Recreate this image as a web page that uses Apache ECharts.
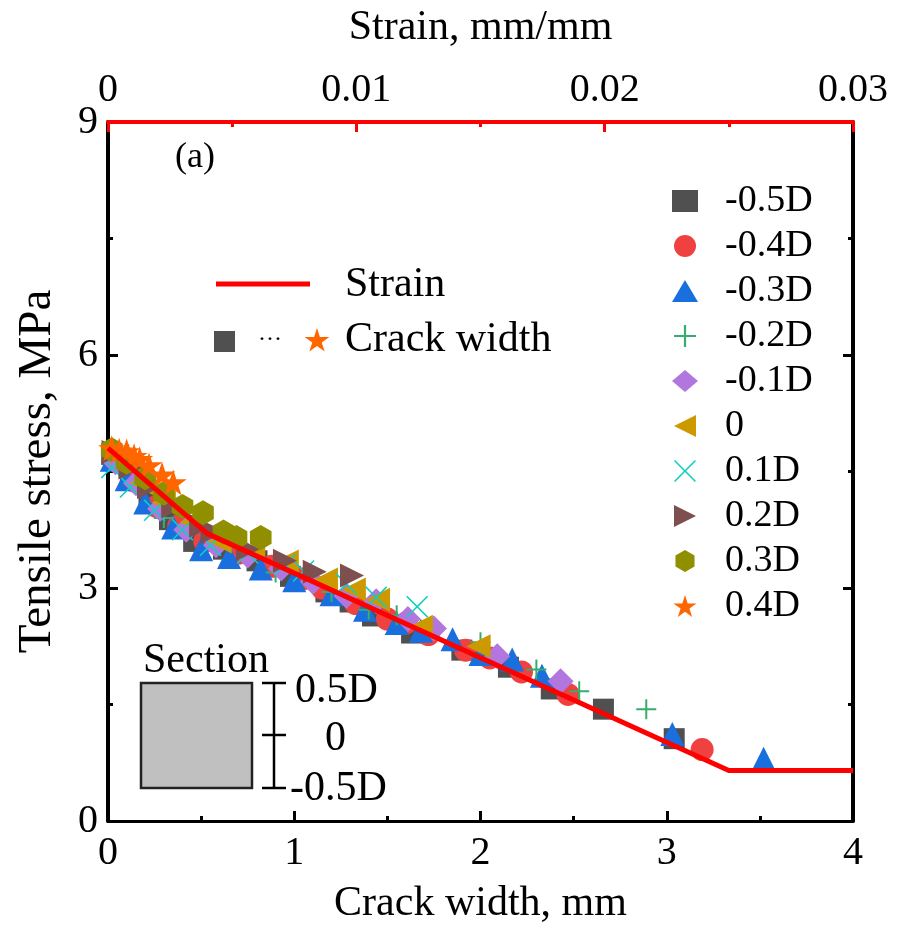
<!DOCTYPE html>
<html><head><meta charset="utf-8">
<script src="https://cdn.jsdelivr.net/npm/echarts@6/dist/echarts.min.js"></script>
<style>html,body{margin:0;padding:0;background:#fff}#c{width:897px;height:930px}</style>
</head><body><div id="c"></div>
<script>
// ---- data ----
const seriesNames = ['-0.5D','-0.4D','-0.3D','-0.2D','-0.1D','0','0.1D','0.2D','0.3D','0.4D'];
const xTicksCrack = [0,1,2,3,4];
const xTicksStrain = [0,0.01,0.02,0.03];
const yTicks = [0,3,6,9];
const strainLine = [[0,4.8],[0.004,3.7],[0.025,0.65],[0.03,0.65]];
const sM05 = [[0.02,4.72],[0.12,4.42],[0.22,4.15],[0.33,3.88],[0.46,3.6],[0.62,3.5],[0.8,3.35],[0.98,3.15],[1.17,2.95],[1.3,2.82],[1.42,2.64],[1.63,2.42],[1.9,2.2],[2.15,1.98],[2.38,1.7],[2.66,1.44],[3.04,1.06]];
const sM04 = [[0.03,4.68],[0.14,4.38],[0.26,4.05],[0.38,3.8],[0.52,3.6],[0.7,3.45],[0.88,3.28],[1.05,3.12],[1.15,3.0],[1.33,2.8],[1.5,2.6],[1.6,2.55],[1.72,2.4],[1.92,2.2],[2.05,2.1],[2.22,1.92],[2.47,1.63],[3.19,0.92]];
const sM03 = [[0.02,4.65],[0.1,4.4],[0.2,4.1],[0.35,3.78],[0.5,3.5],[0.65,3.4],[0.82,3.25],[1.0,3.1],[1.2,2.92],[1.38,2.72],[1.55,2.55],[1.68,2.45],[1.85,2.34],[2.0,2.15],[2.17,2.08],[2.33,1.87],[3.03,1.12],[3.52,0.8]];
const sM02 = [[0.05,4.6],[0.3,3.9],[0.6,3.55],[0.9,3.2],[1.2,2.95],[1.4,2.72],[1.55,2.65],[1.75,2.5],[2.0,2.3],[2.3,1.95],[2.53,1.67],[2.89,1.44]];
const sM01 = [[0.04,4.62],[0.15,4.35],[0.28,4.02],[0.42,3.75],[0.58,3.55],[0.75,3.42],[0.93,3.25],[1.1,3.08],[1.28,2.9],[1.44,2.83],[1.61,2.6],[1.75,2.48],[2.09,2.12],[2.43,1.8]];
const sZero = [[0.05,4.7],[0.18,4.35],[0.3,4.1],[0.45,3.85],[0.6,3.6],[0.78,3.5],[0.96,3.34],[1.17,3.11],[1.32,2.98],[1.45,2.85],[1.68,2.5],[1.99,2.25]];
const sP01 = [[0.02,4.55],[0.12,4.3],[0.25,4.0],[0.4,3.75],[0.55,3.55],[0.75,3.45],[0.95,3.3],[1.05,3.22],[1.28,3.05],[1.44,2.88],[1.66,2.76]];
const sP02 = [[0.03,4.75],[0.12,4.55],[0.22,4.3],[0.35,4.05],[0.5,3.8],[0.56,3.72],[0.75,3.5],[0.95,3.35],[1.11,3.21],[1.31,3.16]];
const sP03 = [[0.02,4.78],[0.1,4.62],[0.2,4.42],[0.3,4.22],[0.4,4.05],[0.51,3.97],[0.62,3.72],[0.69,3.65],[0.82,3.65]];
const sP04 = [[0.02,4.8],[0.06,4.77],[0.1,4.76],[0.14,4.7],[0.17,4.66],[0.22,4.58],[0.29,4.46],[0.35,4.36]];

// ---- styling ----
const FONT = "'Liberation Serif','Times New Roman',serif";
const P_PLUS = 'path://M4.5,0H5.5V4.5H10V5.5H5.5V10H4.5V5.5H0V4.5H4.5Z';
const P_X = 'path://M0.5,0L5,4.5L9.5,0L10,0.5L5.5,5L10,9.5L9.5,10L5,5.5L0.5,10L0,9.5L4.5,5L0,0.5Z';
const P_LEFT = 'path://M0,5L10,0L10,10Z';
const P_RIGHT = 'path://M0,0L10,5L0,10Z';
const P_HEX = 'path://M5,0L9.33,2.5L9.33,7.5L5,10L0.67,7.5L0.67,2.5Z';
const P_STAR = 'path://M5,0L6.12,3.45L9.76,3.45L6.82,5.59L7.94,9.05L5,6.91L2.06,9.05L3.18,5.59L0.24,3.45L3.88,3.45Z';
const STAR_PTS = [[5,0],[6.12,3.45],[9.76,3.45],[6.82,5.59],[7.94,9.05],[5,6.91],[2.06,9.05],[3.18,5.59],[0.24,3.45],[3.88,3.45]];
const seriesData = [sM05,sM04,sM03,sM02,sM01,sZero,sP01,sP02,sP03,sP04];
const symbols = ['rect','circle','triangle',P_PLUS,'diamond',P_LEFT,P_X,P_RIGHT,P_HEX,P_STAR];
const sizes = [21,23,24,20,26,24,22,24,25,27];
const colors = ['#505050','#f04141','#1a6fdf','#37ad6b','#b177de','#cc9900','#0fcfc0','#7e4f4f','#8f8f00','#ff6600'];

const scatterSeries = seriesNames.map((n,i)=>({
  name:n, type:'scatter', xAxisIndex:0, yAxisIndex:0,
  data:seriesData[i], symbol:symbols[i], symbolSize:sizes[i], symbolKeepAspect:true,
  itemStyle:{color:colors[i], opacity:1}, z:2+i
}));

const chart = echarts.init(document.getElementById('c'), null, {renderer:'canvas'});
const axisText = {fontFamily:FONT, fontSize:40, color:'#000'};
const nameText = {fontFamily:FONT, fontSize:42, color:'#000'};
const starLegend = STAR_PTS.map(p=>[304+p[0]*2.6, 328+p[1]*2.6]);
chart.setOption({
  animation:false,
  grid:{left:108, right:44, top:122, bottom:108},
  legend:{
    orient:'vertical', left:667, top:177, itemWidth:26, itemHeight:22, itemGap:7,
    data:seriesNames,
    textStyle:{fontFamily:FONT, fontSize:38, color:'#000', lineHeight:38, padding:[0,0,0,22]}
  },
  xAxis:[
    {type:'value', position:'bottom', min:0, max:4, interval:1,
     name:'Crack width, mm', nameLocation:'middle', nameGap:62, nameTextStyle:nameText,
     axisLine:{show:true, onZero:false, lineStyle:{color:'#000', width:3}},
     axisTick:{show:true, inside:true, length:10, lineStyle:{color:'#000', width:3}},
     minorTick:{show:true, splitNumber:2, length:5, lineStyle:{color:'#000', width:3}},
     splitLine:{show:false},
     axisLabel:Object.assign({margin:12}, axisText)},
    {type:'value', position:'top', min:0, max:0.03, interval:0.01,
     name:'Strain, mm/mm', nameLocation:'middle', nameGap:73, nameTextStyle:nameText,
     axisLine:{show:true, onZero:false, lineStyle:{color:'#ff0000', width:4}},
     axisTick:{show:true, inside:true, length:10, lineStyle:{color:'#ff0000', width:3}},
     minorTick:{show:true, splitNumber:2, length:5, lineStyle:{color:'#ff0000', width:3}},
     splitLine:{show:false},
     axisLabel:Object.assign({margin:12, formatter:v=>String(+v.toFixed(3))}, axisText), z:5}
  ],
  yAxis:[
    {type:'value', position:'left', min:0, max:9, interval:3,
     name:'Tensile stress, MPa', nameLocation:'middle', nameGap:47, nameRotate:90,
     nameTextStyle:{fontFamily:FONT, fontSize:47, color:'#000'},
     axisLine:{show:true, onZero:false, lineStyle:{color:'#000', width:4}},
     axisTick:{show:true, inside:true, length:10, lineStyle:{color:'#000', width:3}},
     minorTick:{show:true, splitNumber:2, length:5, lineStyle:{color:'#000', width:3}},
     splitLine:{show:false},
     axisLabel:Object.assign({margin:10}, axisText)},
    {type:'value', position:'right', min:0, max:9, interval:3,
     axisLine:{show:true, onZero:false, lineStyle:{color:'#000', width:4}},
     axisTick:{show:true, inside:true, length:10, lineStyle:{color:'#000', width:3}},
     minorTick:{show:true, splitNumber:2, length:5, lineStyle:{color:'#000', width:3}},
     splitLine:{show:false}, axisLabel:{show:false}}
  ],
  series: scatterSeries.concat([{
    name:'Strain', type:'line', xAxisIndex:1, yAxisIndex:0, data:strainLine,
    symbol:'none', lineStyle:{color:'#ff0000', width:5}, z:20
  }]),
  graphic:[
    {type:'text', left:175, top:140, style:{text:'(a)', font:'36px '+FONT, fill:'#000'}},
    {type:'line', shape:{x1:216,y1:284,x2:310,y2:284}, style:{stroke:'#ff0000', lineWidth:5}},
    {type:'text', left:345, top:264, style:{text:'Strain', font:'42px '+FONT, fill:'#000'}},
    {type:'rect', shape:{x:214,y:331,width:21,height:21}, style:{fill:'#505050'}},
    {type:'text', left:258, top:328, style:{text:'···', font:'24px '+FONT, fill:'#000'}},
    {type:'polygon', shape:{points:starLegend}, style:{fill:'#ff6600'}},
    {type:'text', left:345, top:319, style:{text:'Crack width', font:'42px '+FONT, fill:'#000'}},
    {type:'text', left:143, top:640, style:{text:'Section', font:'42px '+FONT, fill:'#000'}},
    {type:'rect', shape:{x:141,y:683,width:111,height:105}, style:{fill:'#c0c0c0', stroke:'#222', lineWidth:2.5}},
    {type:'line', shape:{x1:274,y1:683,x2:274,y2:788}, style:{stroke:'#000', lineWidth:2.5}},
    {type:'line', shape:{x1:262,y1:683,x2:286,y2:683}, style:{stroke:'#000', lineWidth:2.5}},
    {type:'line', shape:{x1:262,y1:735,x2:286,y2:735}, style:{stroke:'#000', lineWidth:2.5}},
    {type:'line', shape:{x1:262,y1:788,x2:286,y2:788}, style:{stroke:'#000', lineWidth:2.5}},
    {type:'text', left:295, top:670, style:{text:'0.5D', font:'42px '+FONT, fill:'#000'}},
    {type:'text', left:325, top:718, style:{text:'0', font:'42px '+FONT, fill:'#000'}},
    {type:'text', left:290, top:768, style:{text:'-0.5D', font:'42px '+FONT, fill:'#000'}}
  ]
});
</script></body></html>
